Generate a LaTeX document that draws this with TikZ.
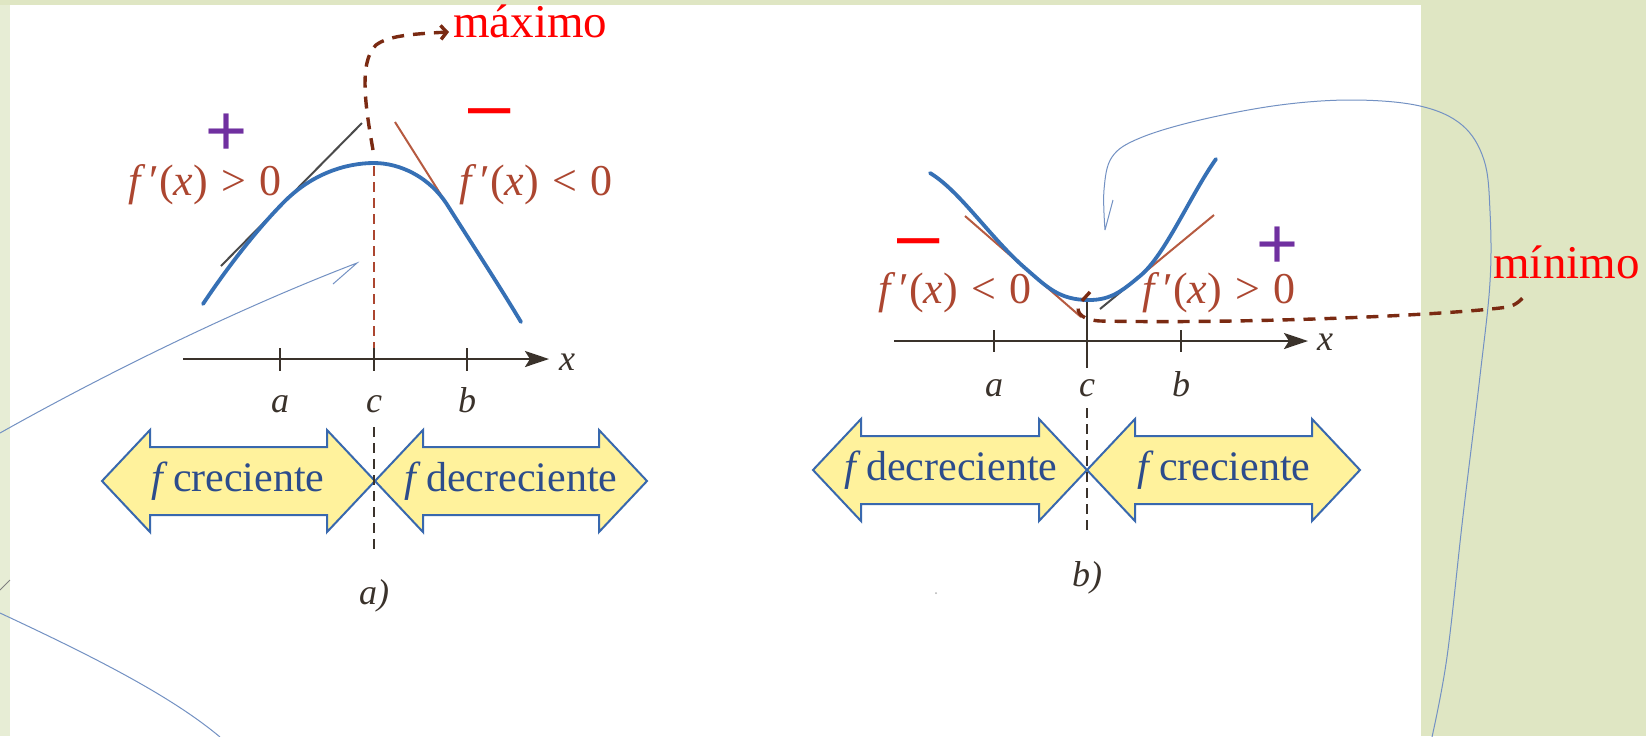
\documentclass[tikz,border=0pt]{standalone}
\usepackage{fontspec}
\setmainfont{Liberation Serif}
\newfontfamily\sansf{Liberation Sans}
\usetikzlibrary{arrows.meta}
\definecolor{bggreen}{HTML}{DFE6C3}
\definecolor{bgleft}{HTML}{E7EDD5}
\definecolor{curveblue}{HTML}{3670B5}
\definecolor{tangray}{HTML}{4A4A4A}
\definecolor{tanred}{HTML}{B65A40}
\definecolor{lblred}{HTML}{AC4630}
\definecolor{axisdark}{HTML}{3A322B}
\definecolor{arrfill}{HTML}{FFF29C}
\definecolor{arrline}{HTML}{3868AE}
\definecolor{arrtext}{HTML}{2C4C8C}
\definecolor{conbrown}{HTML}{7A2A12}
\definecolor{penblue}{HTML}{7391C3}
\definecolor{plusviolet}{HTML}{7030A0}
\newcommand\dblarrowshape[3]{%
  \filldraw[dblarr] (#1,#3) -- (#1+48,#3-51) -- (#1+48,#3-34) -- (#2-48,#3-34) -- (#2-48,#3-51) -- (#2,#3)
    -- (#2-48,#3+51) -- (#2-48,#3+34) -- (#1+48,#3+34) -- (#1+48,#3+51) -- cycle;}
\begin{document}
\begin{tikzpicture}[x=0.5pt,y=-0.5pt,
  curve/.style={curveblue, line width=1.9pt, line cap=round},
  tang/.style={tangray, line width=1pt},
  tangr/.style={tanred, line width=1pt},
  axisline/.style={axisdark, line width=1.25pt, -{Stealth[length=12pt,width=8pt,inset=2.5pt]}},
  tickline/.style={axisdark, line width=1pt},
  deriv/.style={lblred, font=\fontsize{22}{24}\selectfont, inner sep=0pt},
  varlbl/.style={axisdark, font=\fontsize{18}{20}\selectfont\itshape, inner sep=0pt},
  plussign/.style={plusviolet, font=\sansf\fontsize{36}{40}\selectfont, inner sep=0pt},
  minussign/.style={red, font=\sansf\fontsize{38}{40}\selectfont, inner sep=0pt},
  callout/.style={red, font=\fontsize{23.5}{26}\selectfont, inner sep=0pt},
  conn/.style={conbrown, line width=1.7pt, dash pattern=on 6pt off 4.5pt},
  pen/.style={penblue, line width=0.5pt},
  dblarr/.style={draw=arrline, fill=arrfill, line width=1pt, line join=miter},
  arrlbl/.style={arrtext, font=\fontsize{21}{24}\selectfont, inner sep=0pt},
  cdash/.style={axisdark, line width=0.8pt, dash pattern=on 5pt off 3pt},
  rdash/.style={lblred, line width=1pt, dash pattern=on 5pt off 3pt}]
\useasboundingbox (0,0) rectangle (1646,736);
\fill[bggreen] (0,0) rectangle (1646,736);
\fill[bgleft] (0,5) rectangle (10,736);
\fill[white] (10,5) rectangle (1421,736);

% ---------- hand-drawn pen strokes ----------
\draw[pen] (333,284) -- (357,263) .. controls (260,300) and (130,360) .. (0,433);
\draw[pen, gray] (0,590) -- (10,580);
\draw[pen] (0,613) .. controls (90,655) and (170,695) .. (220,737);
\draw[pen] (1113,200) -- (1105,230) plot[smooth, tension=0.6] coordinates {(1105,230) (1104,190) (1112,157) (1140,138) (1200,120) (1280,105) (1354,100) (1420,106) (1462,125) (1484,160) (1490,211) (1490,282) (1480,376) (1463,516) (1447,657) (1432,737)};
\fill[gray!60] (936,593) circle (1);

% ================= panel a =================
\draw[rdash] (374,166) -- (374,348);
\draw[tang] (221,266) -- (362,123);
\draw[tangr] (395,122) -- (448,206);
\draw[tang] (448,206) -- (498,285);
\draw[curve] (203,304) .. controls (228,266.5) and (257,229.3) .. (284,202)
  .. controls (312,173.7) and (346,163) .. (374,163)
  .. controls (400,163) and (430,177) .. (448,206)
  .. controls (472,244) and (497,282) .. (521,322);
\node[plussign] (pa) at (227,155) {\smash{+}};
\node[minussign] (ma) at (490,130) {\smash{–}};
\node[deriv] (dpa) at (205,185) {\textit{f}\kern0.08em′(\textit{x})\kern0.3em>\kern0.3em0};
\node[deriv] (dna) at (536,185) {\textit{f}\kern0.08em′(\textit{x})\kern0.3em<\kern0.3em0};
\draw[axisline] (183,359) -- (549,359) coordinate (axa);
\node[varlbl, anchor=base] (xa) at (567,370) {x};
\foreach \t in {280, 374, 467} \draw[tickline] (\t,348) -- (\t,371);
\node[varlbl, anchor=base] (la) at (280,412) {a};
\node[varlbl, anchor=base] (lc) at (374,412) {c};
\node[varlbl, anchor=base] (lb) at (467,412) {b};
\dblarrowshape{102}{375}{481}
\dblarrowshape{375}{647}{481}
\draw[cdash] (374,427) -- (374,550);
\node[arrlbl] (ca) at (238,481) {\textit{f}\hspace{0.12em}creciente};
\node[arrlbl] (da) at (511,481) {\textit{f}\hspace{0.12em}decreciente};
\node[varlbl] (capa) at (374,596) {a)};

% máximo connector
\coordinate (maxstart) at (373,150);
\coordinate (maxend) at (449,32);
\node[callout, anchor=base west] (maxlbl) at (453,37) {máximo};
\draw[conn, -{Straight Barb[length=3pt,width=7pt]}] (maxstart) .. controls (366,110) and (358,62) .. (376,45) .. controls (388,36) and (410,34) .. (maxend);

% ================= panel b =================
\draw[tickline] (1087,298) -- (1087,368);
\draw[tangr] (965,216) -- (1081,317);
\draw[tang] (1100,309) -- (1145,272);
\draw[tangr] (1145,272) -- (1214,215);
\draw[curve] (930,173) .. controls (960,191) and (990,237.5) .. (1025,268)
  .. controls (1047,287) and (1059,300) .. (1089,300)
  .. controls (1111,300) and (1122,291) .. (1140,276)
  .. controls (1165,255.4) and (1191,194) .. (1216,159);
\node[minussign] (mb) at (919,260) {\smash{–}};
\node[plussign] (pb) at (1278,268) {\smash{+}};
\node[deriv] (dnb) at (955,293) {\textit{f}\kern0.08em′(\textit{x})\kern0.3em<\kern0.3em0};
\node[deriv] (dpb) at (1219,293) {\textit{f}\kern0.08em′(\textit{x})\kern0.3em>\kern0.3em0};
\draw[axisline] (894,341) -- (1308,341) coordinate (axb);
\node[varlbl, anchor=base] (xb) at (1325,350) {x};
\foreach \t in {994, 1181} \draw[tickline] (\t,330) -- (\t,352);
\node[varlbl, anchor=base] (lab) at (994,396) {a};
\node[varlbl, anchor=base] (lcb) at (1087,396) {c};
\node[varlbl, anchor=base] (lbb) at (1181,396) {b};
\dblarrowshape{813}{1087}{470}
\dblarrowshape{1087}{1360}{470}
\draw[cdash] (1087,408) -- (1087,532);
\node[arrlbl] (db) at (951,470) {\textit{f}\hspace{0.12em}decreciente};
\node[arrlbl] (cb) at (1224,470) {\textit{f}\hspace{0.12em}creciente};
\node[varlbl] (capb) at (1087,578) {b)};

% mínimo connector
\coordinate (minstart) at (1090,292);
\node[callout, anchor=base west] (minlbl) at (1493,278) {mínimo};
\draw[conn] (minstart) -- (1079,304) .. controls (1075,314) and (1084,320) .. (1100,321)
  .. controls (1250,324) and (1450,315) .. (1508,307) .. controls (1516,305) and (1522,300) .. (1527,292);
\end{tikzpicture}
\end{document}
